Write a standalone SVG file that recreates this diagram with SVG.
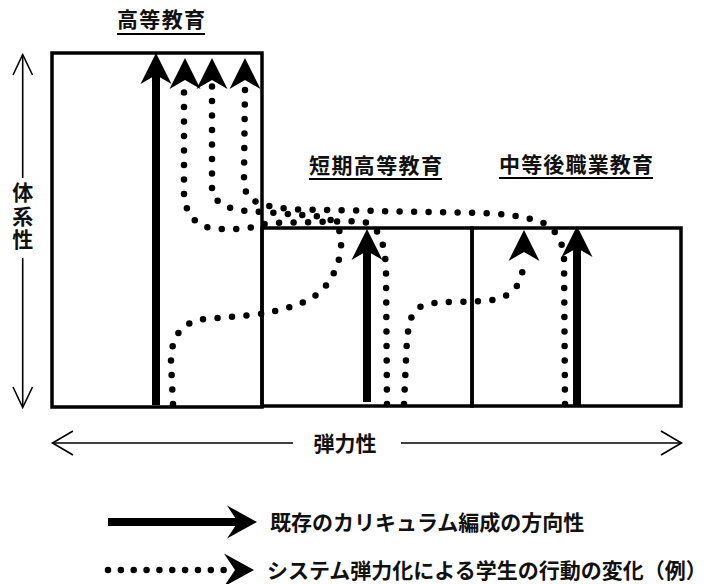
<svg xmlns="http://www.w3.org/2000/svg" width="710" height="584" viewBox="0 0 710 584">
<defs>
<style>
.box{fill:none;stroke:#000;stroke-width:3.5}
.lbl{font-family:"Noto Sans CJK JP","Noto Sans CJK SC",sans-serif;font-size:21px;font-weight:700;fill:#111}
.ul{stroke:#000;stroke-width:2}
.thin{fill:none;stroke:#000;stroke-width:1.6}
.solid{fill:none;stroke:#000;stroke-width:8}
.dot{fill:none;stroke:#000;stroke-width:6.5;stroke-linecap:round;stroke-dasharray:0 14.5}
.head{fill:#000}
</style>
<path id="h" d="M0,0 L15.5,31 L0,22 L-15.5,31 Z"/>
<path id="hl" d="M0,0 L-30,-16.5 L-19,0 L-30,16.5 Z"/>
</defs>
<rect width="710" height="584" fill="#fff"/>

<g id="higher">
<rect class="box" x="52" y="53" width="210" height="354"/>
<text class="lbl" x="117" y="27" textLength="88" lengthAdjust="spacing">高等教育</text>
<line class="ul" x1="117" y1="34" x2="205" y2="34"/>
</g>

<g id="short">
<rect class="box" x="262" y="228" width="210" height="178"/>
<text class="lbl" x="309" y="173" textLength="133" lengthAdjust="spacing">短期高等教育</text>
<line class="ul" x1="309" y1="179" x2="442" y2="179"/>
</g>

<g id="vocational">
<rect class="box" x="472" y="228" width="209" height="178"/>
<text class="lbl" x="499" y="172" textLength="154" lengthAdjust="spacing">中等後職業教育</text>
<line class="ul" x1="499" y1="178" x2="653" y2="178"/>
</g>

<g id="axis-system">
<line class="thin" x1="22.7" y1="55" x2="22.7" y2="178"/>
<line class="thin" x1="22.7" y1="258" x2="22.7" y2="407"/>
<polyline class="thin" points="13,75 22.7,54.5 32.5,75"/>
<polyline class="thin" points="13,387 22.7,407.5 32.5,387"/>
<text class="lbl" x="22.7" y="182" writing-mode="vertical-rl" letter-spacing="2.5">体系性</text>
</g>

<g id="axis-flex">
<line class="thin" x1="53" y1="443" x2="293" y2="443"/>
<line class="thin" x1="401" y1="443" x2="681" y2="443"/>
<polyline class="thin" points="73,431 52.5,443 73,455"/>
<polyline class="thin" points="661,431 681.5,443 661,455"/>
<text class="lbl" x="345" y="451" text-anchor="middle">弾力性</text>
</g>

<g id="connectors">
<line class="solid" x1="156" y1="405" x2="156" y2="72"/>
<use href="#h" class="head" x="156" y="53"/>
<line class="solid" x1="367" y1="402" x2="367" y2="250"/>
<use href="#h" class="head" x="367" y="229"/>
<line class="solid" x1="577" y1="405" x2="577" y2="247"/>
<use href="#h" class="head" x="577" y="226"/>

<path class="dot" d="M387,404 L386,270 C385,240 378,224 360,221 L270,223 C260,224 255,228 240,229 L222,229 C198,229 186,217 184,195 L184,86"/>
<use href="#h" class="head" x="185" y="58"/>
<path class="dot" d="M173,404 L171,362 C171,338 180,322 205,319 L252,315 C282,311 306,304 320,292 C336,277 342,255 341,240 C340,225 333,217 315,216 L262,212 C232,211 215,206 212,190 L212,86"/>
<use href="#h" class="head" x="212" y="58"/>
<path class="dot" d="M565,404 L564,258 C563,238 552,224 535,220 C520,216 505,214 480,213 L300,209.5 C275,208 258,205 250,198 C245,193 244,186 244,175 L245,88"/>
<use href="#h" class="head" x="245" y="58"/>
<path class="dot" d="M404,404 L406,360 C407,332 409,312 420,307 C428,303 440,302 455,302 L485,301 C505,299 515,292 520,280 C523,272 523,268 523,262"/>
<use href="#h" class="head" x="524" y="230"/>
</g>

<g id="legend">
<line x1="108" y1="522" x2="240" y2="522" stroke="#000" stroke-width="8"/>
<use href="#hl" class="head" x="257" y="522"/>
<text class="lbl" x="270" y="530">既存のカリキュラム編成の方向性</text>
<path class="dot" d="M108,570 L224,570" style="stroke-dasharray:0 12.85"/>
<use href="#hl" class="head" x="254" y="570"/>
<text class="lbl" x="267" y="578">システム弾力化による学生の行動の変化（例）</text>
</g>
</svg>
